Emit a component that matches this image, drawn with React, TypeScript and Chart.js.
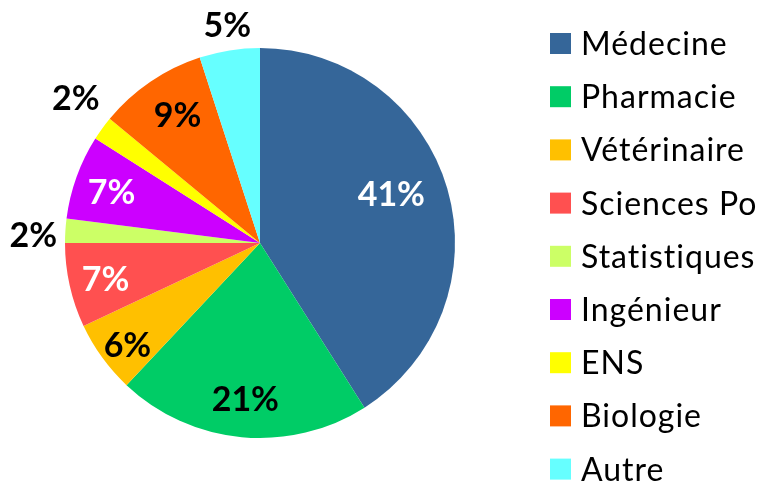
import React, { useEffect, useRef } from "react";
import { Chart, registerables } from "chart.js";

Chart.register(...registerables);

const categories = [
  "Médecine",
  "Pharmacie",
  "Vétérinaire",
  "Sciences Po",
  "Statistiques",
  "Ingénieur",
  "ENS",
  "Biologie",
  "Autre",
];
const values = [41, 21, 6, 7, 2, 7, 2, 9, 5];
const colors = [
  "#356699",
  "#00CC66",
  "#FFC000",
  "#FF5050",
  "#CCFF66",
  "#CC00FF",
  "#FFFF00",
  "#FF6600",
  "#66FFFF",
];
const labelColors = ["#FFFFFF", "#000000", "#000000", "#FFFFFF", "#000000", "#FFFFFF", "#000000", "#000000", "#000000"];
// label placement style: radius factor and angle nudge (degrees)
const labelRadius = [0.72, 0.8, 0.857, 0.813, 1.163, 0.806, 1.203, 0.783, 1.132];
const labelNudge = [-4.5, 0, -1.5, -0.5, -1.5, -0.7, 2.3, 1.5, 0.5];

const FONT = "Lato, 'Open Sans', sans-serif";

const overlayPlugin = {
  id: "overlay",
  afterDatasetsDraw(chart: any) {
    const ctx = chart.ctx;
    const meta = chart.getDatasetMeta(0);
    const data = chart.data.datasets[0].data as number[];
    const total = data.reduce((a, b) => a + b, 0);
    ctx.save();
    // percentage labels
    const lfs = 34;
    ctx.font = `bold ${lfs}px ${FONT}`;
    ctx.textAlign = "center";
    ctx.textBaseline = "alphabetic";
    meta.data.forEach((arc: any, i: number) => {
      const v = data[i];
      const pct = Math.round((v / total) * 100);
      const mid = (arc.startAngle + arc.endAngle) / 2 + (labelNudge[i] * Math.PI) / 180;
      const r = arc.outerRadius * labelRadius[i];
      const cx = arc.x + Math.cos(mid) * r;
      const cy = arc.y + Math.sin(mid) * r;
      ctx.fillStyle = labelColors[i];
      ctx.fillText(pct + "%", cx, cy + lfs * 0.36);
    });
    // legend
    const fs = 32;
    ctx.font = `${fs}px ${FONT}`;
    try {
      ctx.letterSpacing = "1px";
    } catch (e) {}
    ctx.textAlign = "left";
    chart.data.labels.forEach((lab: string, i: number) => {
      const cy = 43.5 + i * 53.2;
      ctx.fillStyle = colors[i];
      ctx.fillRect(550, cy - 10.5, 21, 21);
      ctx.fillStyle = "#000000";
      ctx.fillText(lab, 581, cy + fs * 0.36);
    });
    ctx.restore();
  },
};

export default function App() {
  const ref = useRef<HTMLCanvasElement>(null);
  useEffect(() => {
    document.body.style.margin = "0";
    const chart = new Chart(ref.current!, {
      type: "pie",
      data: {
        labels: categories,
        datasets: [
          {
            data: values,
            backgroundColor: colors,
            borderWidth: 0,
          },
        ],
      },
      options: {
        responsive: false,
        animation: false,
        layout: { padding: { left: 65, top: 48, right: 306, bottom: 44 } },
        plugins: {
          legend: { display: false },
          tooltip: { enabled: false },
        },
      },
      plugins: [overlayPlugin],
    });
    return () => chart.destroy();
  }, []);
  return <canvas ref={ref} width={761} height={482} style={{ display: "block" }} />;
}
